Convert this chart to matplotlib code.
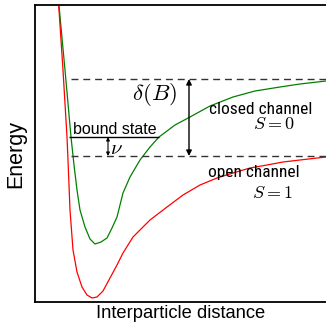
import matplotlib
matplotlib.use("Agg")
import matplotlib.pyplot as plt
from matplotlib import font_manager

# Curve data (distance, energy) in arbitrary units
closed_x = [23, 30, 36, 39, 42, 45, 50, 55, 60, 66, 72, 77, 82, 88, 95, 105, 115, 124, 140, 155, 175, 198, 220, 245, 265, 291]
closed_y = [307, 232, 165, 137, 112, 92, 75, 63, 58, 60, 64, 74, 85, 109, 125, 142, 155, 165, 177, 185, 196, 205, 211, 215, 218, 221]
open_x = [23, 28, 32, 33, 35, 38, 42, 47, 52, 57, 62, 68, 75, 82, 88, 98, 115, 132, 148, 165, 182, 198, 215, 232, 248, 265, 291]
open_y = [307, 232, 165, 142, 92, 52, 30, 15, 7, 4, 5, 11, 24, 37, 49, 65, 82, 95, 107, 117, 124, 129, 134, 137, 140, 142, 145]

closed_level = 223
open_level = 146
bound_level = 165
bound_x = [34, 124]
dash_start = 36
delta_x = 154
nu_x = 73

fonts = font_manager.fontManager.ttflist
names = {f.name for f in fonts}
narrow_kw = None
for cand in ["Liberation Sans Narrow", "Arial Narrow", "Roboto Condensed", "Open Sans Condensed"]:
    if cand in names:
        narrow_kw = dict(family=cand, fontsize=12.5)
        break
if narrow_kw is None:
    cond = [f for f in fonts if f.name == "DejaVu Sans" and str(f.stretch) in ("condensed", "semi-condensed", "600", "500")]
    if cond:
        narrow_kw = dict(family="DejaVu Sans", stretch="condensed", fontsize=11.0)
    else:
        narrow_kw = dict(family="Liberation Sans", fontsize=10.5)

plt.rcParams['font.family'] = ['Liberation Sans', 'DejaVu Sans']
plt.rcParams['mathtext.fontset'] = 'cm'

fig = plt.figure(figsize=(3.26, 3.22), dpi=100)
ax = fig.add_axes([35/326, 20/322, 291/326, 297/322])
ax.set_xlim(0, 291)
ax.set_ylim(0, 297)

ax.plot(closed_x, closed_y, color='#008000', lw=0.9, solid_joinstyle='round')
ax.plot(open_x, open_y, color='#ff0000', lw=0.9, solid_joinstyle='round')

ax.hlines([closed_level, open_level], dash_start, 291, colors='#333333', lw=1.0, linestyles=(0, (5, 3.5)))
ax.hlines(bound_level, bound_x[0], bound_x[1], colors='black', lw=1.0)

ax.annotate('', xy=(delta_x, closed_level), xytext=(delta_x, open_level),
            arrowprops=dict(arrowstyle='<|-|>', color='black', lw=1.0, mutation_scale=8, shrinkA=0, shrinkB=0))
ax.annotate('', xy=(nu_x, bound_level), xytext=(nu_x, open_level),
            arrowprops=dict(arrowstyle='<|-|>', color='black', lw=0.8, mutation_scale=5, shrinkA=0, shrinkB=0))

ax.text(38, 168, 'bound state', fontsize=11.5, va='baseline', ha='left')
ax.text(81, 154, r'$\nu$', fontsize=15, va='center', ha='center')
ax.text(120, 208, r'$\delta(B)$', fontsize=16.5, va='center', ha='center')
ax.text(174, 188.5, 'closed channel', va='baseline', ha='left', **narrow_kw)
ax.text(260, 177.5, r'$S = 0$', fontsize=13, va='center', ha='right')
ax.text(173, 124.5, 'open channel', va='baseline', ha='left', **narrow_kw)
ax.text(258, 108, r'$S = 1$', fontsize=13, va='center', ha='right')

ax.set_xticks([])
ax.set_yticks([])
ax.spines['right'].set_visible(False)
for s in ['left', 'top', 'bottom']:
    ax.spines[s].set_linewidth(1.3)
ax.set_xlabel('Interparticle distance', fontsize=13.2, labelpad=2)
ax.set_ylabel('Energy', fontsize=15.5, labelpad=6)

fig.savefig('out.png', dpi=100)
